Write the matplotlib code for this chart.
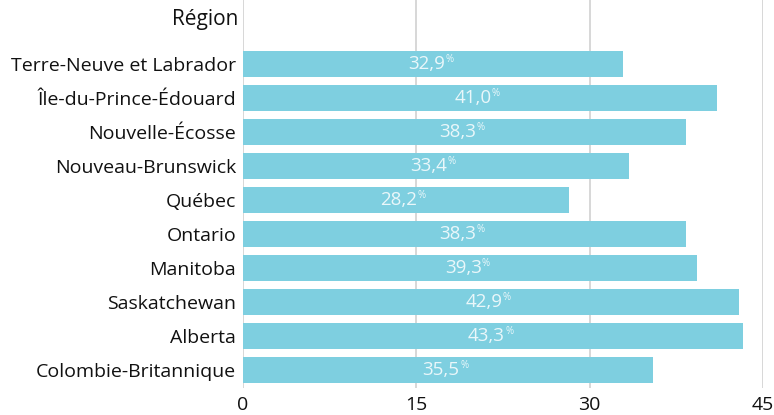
import matplotlib.pyplot as plt

plt.rcParams['font.family'] = ['Open Sans', 'DejaVu Sans']

# DATA
regions = ['Terre-Neuve et Labrador', 'Île-du-Prince-Édouard', 'Nouvelle-Écosse',
           'Nouveau-Brunswick', 'Québec', 'Ontario', 'Manitoba', 'Saskatchewan',
           'Alberta', 'Colombie-Britannique']
values = [32.9, 41.0, 38.3, 33.4, 28.2, 38.3, 39.3, 42.9, 43.3, 35.5]
xticks = [0, 15, 30, 45]

fig = plt.figure(figsize=(7.74, 4.15), dpi=100)
ax = fig.add_axes([243 / 774, 1 - 388 / 415, (763 - 243) / 774, 388 / 415])

ypos = list(range(len(regions)))
ax.barh(ypos, values, height=0.74, color='#7ecfe0', zorder=2)

ax.set_xlim(0, 45)
ax.set_ylim(9.53, -1.88)
ax.set_xticks(xticks)
ax.set_xticklabels([str(t) for t in xticks], fontsize=14)
ax.set_yticks(ypos)
ax.set_yticklabels(regions, fontsize=14)
ax.tick_params(axis='both', length=0, colors='#111111')
ax.tick_params(axis='x', pad=6)
ax.tick_params(axis='y', pad=5)
ax.grid(axis='x', color='#d4d4d4', linewidth=1.3, zorder=0)
for s in ax.spines.values():
    s.set_visible(False)

# value labels
for y, v in zip(ypos, values):
    t = ax.text(v / 2 - 0.6, y, f'{v:.1f}'.replace('.', ','), ha='center', va='center',
                color='#eaf7fa', fontsize=13.5, zorder=3)
    ax.annotate('%', xy=(1, 0.45), xycoords=t, xytext=(0.3, 0), textcoords='offset points',
                ha='left', va='bottom', color='#eaf7fa', fontsize=7, zorder=3)

fig.text(238 / 774, 1 - 20 / 415, 'Région', ha='right', va='center', fontsize=15, color='#111111')

fig.savefig('out.png', dpi=100)
